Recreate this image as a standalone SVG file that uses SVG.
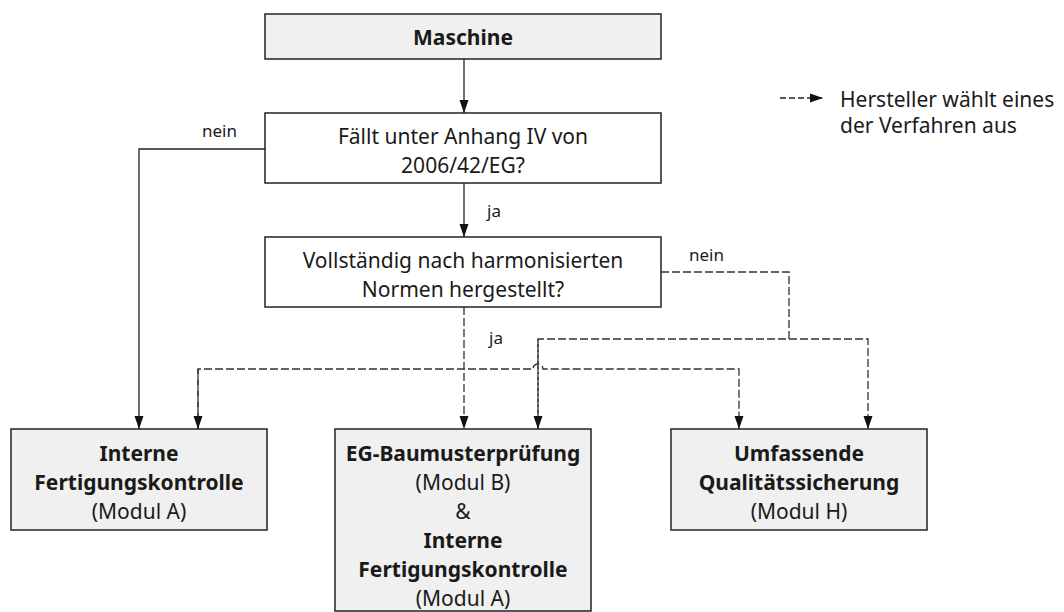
<svg xmlns="http://www.w3.org/2000/svg" width="1064" height="612" viewBox="0 0 1064 612">
<style>
text{font-family:"Noto Sans","Open Sans","DejaVu Sans",sans-serif;fill:#1a1a1a;}
.t{font-size:21px;text-anchor:middle;}
.b{font-weight:bold;}
.lbl{font-size:17px;}
.box{stroke:#222;stroke-width:1.5;}
.grey{fill:#f0f0f0;}
.white{fill:#fff;}
.solid{fill:none;stroke:#222;stroke-width:1.3;}
.dash{fill:none;stroke:#333;stroke-width:1.3;stroke-dasharray:8 3;}
</style>
<defs>
<marker id="ah" markerUnits="userSpaceOnUse" markerWidth="14" markerHeight="10" refX="13" refY="5" orient="auto">
<path d="M0,0.5 L13,5 L0,9.5 z" fill="#111"/>
</marker>
</defs>
<rect width="1064" height="612" fill="#fff"/>
<g id="connectors">
<path class="solid" d="M464,59 V113" marker-end="url(#ah)"/>
<path class="solid" d="M464,183 V237" marker-end="url(#ah)"/>
<path class="solid" d="M265,149 H139 V429" marker-end="url(#ah)"/>
<path class="dash" d="M464,307 V429" marker-end="url(#ah)"/>
<path class="dash" d="M661,272 H789 V339"/>
<path class="dash" d="M538,429 V339 H868 V429" marker-end="url(#ah)"/>
<path class="dash" d="M538,339 V429" marker-end="url(#ah)"/>
<path class="dash" d="M198,429 V369 H533 A5,5 0 0 1 543,369 H739 V429" marker-end="url(#ah)"/>
<path class="dash" d="M198,369 V429" marker-end="url(#ah)"/>
<text class="lbl" x="202" y="137">nein</text>
<text class="lbl" x="487" y="217">ja</text>
<text class="lbl" x="689" y="261">nein</text>
<text class="lbl" x="489" y="344">ja</text>
</g>
<g id="legend">
<path fill="none" stroke="#222" stroke-width="1.3" stroke-dasharray="6 3" d="M780,98 H823" marker-end="url(#ah)"/>
<text style="font-size:21px" x="840" y="107">Hersteller wählt eines</text>
<text style="font-size:21px" x="840" y="133">der Verfahren aus</text>
</g>
<g id="maschine">
<rect class="box grey" x="265" y="14" width="396" height="45"/>
<text class="t b" x="463" y="45">Maschine</text>
</g>
<g id="anhang">
<rect class="box white" x="265" y="113" width="396" height="70"/>
<text class="t" x="463" y="144">Fällt unter Anhang IV von</text>
<text class="t" x="463" y="173">2006/42/EG?</text>
</g>
<g id="normen">
<rect class="box white" x="265" y="237" width="396" height="70"/>
<text class="t" x="463" y="268">Vollständig nach harmonisierten</text>
<text class="t" x="463" y="297">Normen hergestellt?</text>
</g>
<g id="modulA">
<rect class="box grey" x="11" y="429" width="256" height="101"/>
<text class="t b" x="139" y="461">Interne</text>
<text class="t b" x="139" y="490">Fertigungskontrolle</text>
<text class="t" x="139" y="519">(Modul A)</text>
</g>
<g id="modulBA">
<rect class="box grey" x="335" y="429" width="256" height="182"/>
<text class="t b" x="463" y="461">EG-Baumusterprüfung</text>
<text class="t" x="463" y="490">(Modul B)</text>
<text class="t" x="463" y="519">&amp;</text>
<text class="t b" x="463" y="548">Interne</text>
<text class="t b" x="463" y="577">Fertigungskontrolle</text>
<text class="t" x="463" y="606">(Modul A)</text>
</g>
<g id="modulH">
<rect class="box grey" x="671" y="429" width="256" height="101"/>
<text class="t b" x="799" y="461">Umfassende</text>
<text class="t b" x="799" y="490">Qualitätssicherung</text>
<text class="t" x="799" y="519">(Modul H)</text>
</g>
</svg>
